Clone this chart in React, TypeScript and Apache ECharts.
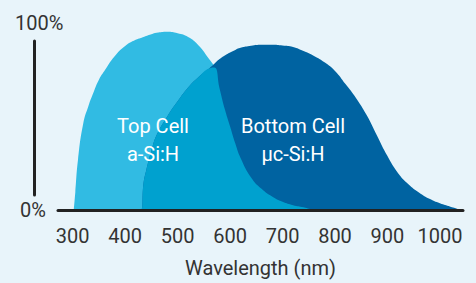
import React, { useEffect, useRef } from "react";
import * as echarts from "echarts";

const wavelengths = [302, 305, 310, 320, 330, 340, 350, 360, 380, 400, 420, 430, 435, 440, 450, 460, 480, 500, 520, 540, 560, 570, 580, 590, 600, 610, 620, 640, 660, 680, 700, 720, 740, 760, 780, 800, 820, 840, 860, 880, 900, 920, 940, 960, 980, 1000, 1020, 1030, 1040];

const topCell = [0, 9.5, 26.5, 46, 55.5, 63, 69.5, 74, 82, 87.5, 90.8, 91.8, 92.3, 92.8, 93.7, 94.5, 95.1, 94.3, 92.3, 87.8, 80.5, 76, 64.8, 53.7, 44.6, 35.5, 27.8, 17.4, 11.3, 7.2, 4.4, 2.6, 1.5, 0.2, 0, 0, 0, 0, 0, 0, 0, 0, 0, 0, 0, 0, 0, 0, 0];

const bottomCell = [0, 0, 0, 0, 0, 0, 0, 0, 0, 0, 0, 0, 14.3, 21, 31.6, 40, 49.8, 58, 65.4, 71, 75.5, 78, 80.5, 82.4, 84, 85.4, 86.5, 87.6, 88.1, 88.2, 87.8, 87, 84.8, 82.2, 78.8, 74.2, 67.2, 59.8, 50.8, 39.8, 28.8, 19.8, 13.8, 9.4, 6, 3.6, 1.8, 1, 0];

const xTicks = [300, 400, 500, 600, 700, 800, 900, 1000];
const yTicks = [0, 100];
const cellLabels = ["Top Cell\na-Si:H", "Bottom Cell\nµc-Si:H"];
const xAxisName = "Wavelength (nm)";

const FONT = "Roboto, 'Noto Sans', sans-serif";

export default function App() {
  const ref = useRef<HTMLDivElement>(null);
  useEffect(() => {
    document.body.style.margin = "0";
    if (!ref.current) return;
    const chart = echarts.init(ref.current, null, { renderer: "svg" });
    const overlap = topCell.map((v, i) => Math.min(v, bottomCell[i]));
    const mk = (vals: number[]) => wavelengths.map((w, i) => [w, vals[i]]);
    const areaSeries = (name: string, vals: number[], color: string) => ({
      name,
      type: "line",
      xAxisIndex: 0,
      yAxisIndex: 0,
      data: mk(vals),
      smooth: 0.5,
      symbol: "none",
      showSymbol: false,
      lineStyle: { width: 0 },
      areaStyle: { color, opacity: 1 },
      silent: true,
    });
    chart.setOption({
      animation: false,
      backgroundColor: "#e8f4fa",
      textStyle: { fontFamily: FONT },
      grid: [
        { left: 58, right: 13, top: 22.5, bottom: 70 },
        { left: 34.5, top: 41, width: 1, height: 154 },
      ],
      xAxis: [
        {
          type: "value",
          gridIndex: 0,
          min: 272,
          max: 1044,
          z: 10,
          axisLine: { show: true, lineStyle: { color: "#222", width: 3 } },
          axisTick: { show: false },
          splitLine: { show: false },
          axisLabel: {
            customValues: xTicks,
            formatter: (v: number) => String(v),
            fontSize: 20,
            color: "#333",
            fontFamily: FONT,
            margin: 16,
          },
          name: xAxisName,
          nameLocation: "middle",
          nameGap: 48,
          nameTextStyle: { fontSize: 20, color: "#333", fontFamily: FONT },
        },
        { type: "value", gridIndex: 1, show: false, min: 0, max: 1 },
      ],
      yAxis: [
        {
          type: "value",
          gridIndex: 0,
          min: 0,
          max: 100,
          interval: 100,
          axisLine: { show: false },
          axisTick: { show: false },
          splitLine: { show: false },
          axisLabel: {
            customValues: yTicks,
            align: "left",
            margin: 43,
            fontSize: 20,
            color: "#333",
            fontFamily: FONT,
            formatter: (v: number) => (v === 0 ? "{z|" + v + "%}" : "{h|" + v + "%}"),
            rich: {
              z: { fontSize: 20, color: "#333", fontFamily: FONT, padding: [0, 0, 0, 5] },
              h: { fontSize: 20, color: "#333", fontFamily: FONT },
            },
          },
        },
        {
          type: "value",
          gridIndex: 1,
          min: 0,
          max: 1,
          axisLine: { show: true, lineStyle: { color: "#222", width: 3 } },
          axisTick: { show: false },
          axisLabel: { show: false },
          splitLine: { show: false },
        },
      ],
      series: [
        areaSeries("Top Cell", topCell, "#31bbe3"),
        areaSeries("Bottom Cell", bottomCell, "#0063a1"),
        areaSeries("Overlap", overlap, "#00a1cf"),
      ],
      graphic: [
        {
          type: "text",
          x: 153,
          y: 140,
          z: 100,
          style: {
            text: cellLabels[0],
            fill: "#ffffff",
            fontSize: 20,
            fontFamily: FONT,
            align: "center",
            verticalAlign: "middle",
            lineHeight: 28,
          },
        },
        {
          type: "text",
          x: 293,
          y: 140,
          z: 100,
          style: {
            text: cellLabels[1],
            fill: "#ffffff",
            fontSize: 20,
            fontFamily: FONT,
            align: "center",
            verticalAlign: "middle",
            lineHeight: 28,
          },
        },
      ],
    });
    return () => chart.dispose();
  }, []);
  return <div ref={ref} style={{ width: 476, height: 283 }} />;
}
